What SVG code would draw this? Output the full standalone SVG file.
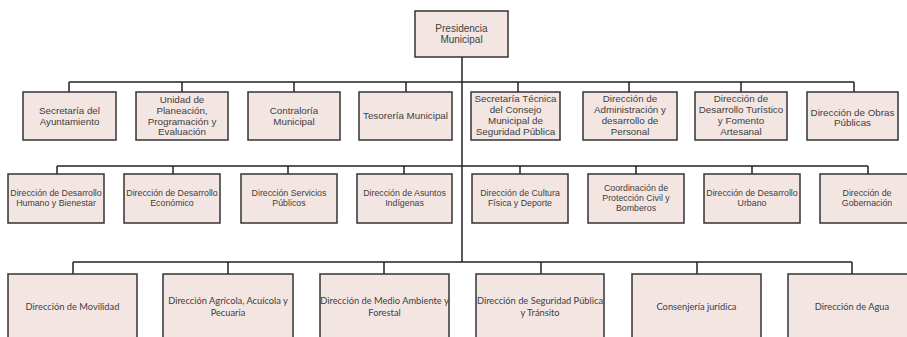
<svg xmlns="http://www.w3.org/2000/svg" width="907" height="337" viewBox="0 0 907 337">
<style>
.box{fill:#f3e6e2;stroke:#333;stroke-width:1.5}
.c{fill:none;stroke:#222;stroke-width:1.5}
text{fill:#404040;text-anchor:middle;font-family:"Liberation Sans",Arial,sans-serif}
.t0{font-size:10px}
.t1{font-size:9.8px}
.t2{font-size:8.8px}
.t3{font-size:9.3px;font-family:Lato,"Liberation Sans",sans-serif}
</style>
<rect width="907" height="337" fill="#fff"/>
<g id="connectors" class="c">
<path d="M462 57V262"/>
<path d="M69 82H854M69 82V92M182 82V92M294 82V92M406 82V92M518 82V92M629 82V92M741 82V92M854 82V92"/>
<path d="M57 166H868M57 166V174M173 166V174M288 166V174M404 166V174M520 166V174M636 166V174M752 166V174M868 166V174"/>
<path d="M73 262H852M73 262V274M228 262V274M384 262V274M541 262V274M697 262V274M852 262V274"/>
</g>
<g id="n0"><rect class="box" x="415" y="11" width="93" height="46"/><text class="t0" x="461.5"><tspan x="461.5" y="32">Presidencia</tspan><tspan x="461.5" y="43">Municipal</tspan></text></g>
<g id="r1a"><rect class="box" x="23" y="92" width="93" height="48"/><text class="t1"><tspan x="69.5" y="114">Secretaría del</tspan><tspan x="69.5" y="125">Ayuntamiento</tspan></text></g>
<g id="r1b"><rect class="box" x="136" y="92" width="92" height="48"/><text class="t1"><tspan x="182" y="103">Unidad de</tspan><tspan x="182" y="114">Planeación,</tspan><tspan x="182" y="125">Programación y</tspan><tspan x="182" y="135">Evaluación</tspan></text></g>
<g id="r1c"><rect class="box" x="248" y="92" width="92" height="48"/><text class="t1"><tspan x="294" y="114">Contraloría</tspan><tspan x="294" y="125">Municipal</tspan></text></g>
<g id="r1d"><rect class="box" x="359" y="92" width="93" height="48"/><text class="t1"><tspan x="405.5" y="119">Tesorería Municipal</tspan></text></g>
<g id="r1e"><rect class="box" x="471" y="92" width="89" height="48"/><text class="t1"><tspan x="515.5" y="102">Secretaría Técnica</tspan><tspan x="515.5" y="113">del Consejo</tspan><tspan x="515.5" y="124">Municipal de</tspan><tspan x="515.5" y="135">Seguridad Pública</tspan></text></g>
<g id="r1f"><rect class="box" x="583" y="92" width="94" height="48"/><text class="t1"><tspan x="630" y="102">Dirección de</tspan><tspan x="630" y="113">Administración y</tspan><tspan x="630" y="124">desarrollo de</tspan><tspan x="630" y="135">Personal</tspan></text></g>
<g id="r1g"><rect class="box" x="695" y="92" width="92" height="48"/><text class="t1"><tspan x="741" y="102">Dirección de</tspan><tspan x="741" y="113">Desarrollo Turístico</tspan><tspan x="741" y="124">y Fomento</tspan><tspan x="741" y="135">Artesanal</tspan></text></g>
<g id="r1h"><rect class="box" x="807" y="92" width="91" height="48"/><text class="t1"><tspan x="852.5" y="116">Dirección de Obras</tspan><tspan x="852.5" y="126">Públicas</tspan></text></g>
<g id="r2a"><rect class="box" x="8" y="174" width="96" height="49"/><text class="t2"><tspan x="56" y="196">Dirección de Desarrollo</tspan><tspan x="56" y="206">Humano y Bienestar</tspan></text></g>
<g id="r2b"><rect class="box" x="124" y="174" width="96" height="49"/><text class="t2"><tspan x="172" y="196">Dirección de Desarrollo</tspan><tspan x="172" y="206">Económico</tspan></text></g>
<g id="r2c"><rect class="box" x="241" y="174" width="96" height="49"/><text class="t2"><tspan x="289" y="196">Dirección Servicios</tspan><tspan x="289" y="206">Públicos</tspan></text></g>
<g id="r2d"><rect class="box" x="357" y="174" width="95" height="49"/><text class="t2"><tspan x="404.5" y="196">Dirección de Asuntos</tspan><tspan x="404.5" y="206">Indígenas</tspan></text></g>
<g id="r2e"><rect class="box" x="472" y="174" width="96" height="49"/><text class="t2"><tspan x="520" y="196">Dirección de Cultura</tspan><tspan x="520" y="206">Física y Deporte</tspan></text></g>
<g id="r2f"><rect class="box" x="588" y="174" width="96" height="49"/><text class="t2"><tspan x="636" y="191">Coordinación de</tspan><tspan x="636" y="201">Protección Civil y</tspan><tspan x="636" y="211">Bomberos</tspan></text></g>
<g id="r2g"><rect class="box" x="704" y="174" width="96" height="49"/><text class="t2"><tspan x="752" y="196">Dirección de Desarrollo</tspan><tspan x="752" y="206">Urbano</tspan></text></g>
<g id="r2h"><rect class="box" x="820" y="174" width="95" height="49"/><text class="t2"><tspan x="867" y="196">Dirección de</tspan><tspan x="867" y="206">Gobernación</tspan></text></g>
<g id="r3a"><rect class="box" x="8" y="274" width="129" height="70"/><text class="t3"><tspan x="72.5" y="310">Dirección de Movilidad</tspan></text></g>
<g id="r3b"><rect class="box" x="163" y="274" width="130" height="70"/><text class="t3"><tspan x="228" y="304">Dirección Agrícola, Acuícola y</tspan><tspan x="228" y="316">Pecuaria</tspan></text></g>
<g id="r3c"><rect class="box" x="320" y="274" width="129" height="70"/><text class="t3"><tspan x="384.5" y="304">Dirección de Medio Ambiente y</tspan><tspan x="384.5" y="316">Forestal</tspan></text></g>
<g id="r3d"><rect class="box" x="476" y="274" width="128" height="70"/><text class="t3"><tspan x="540" y="304">Dirección de Seguridad Pública</tspan><tspan x="540" y="316">y Tránsito</tspan></text></g>
<g id="r3e"><rect class="box" x="632" y="274" width="129" height="70"/><text class="t3"><tspan x="696.5" y="310">Consenjería jurídica</tspan></text></g>
<g id="r3f"><rect class="box" x="788" y="274" width="130" height="70"/><text class="t3"><tspan x="852" y="310">Dirección de Agua</tspan></text></g>
</svg>
